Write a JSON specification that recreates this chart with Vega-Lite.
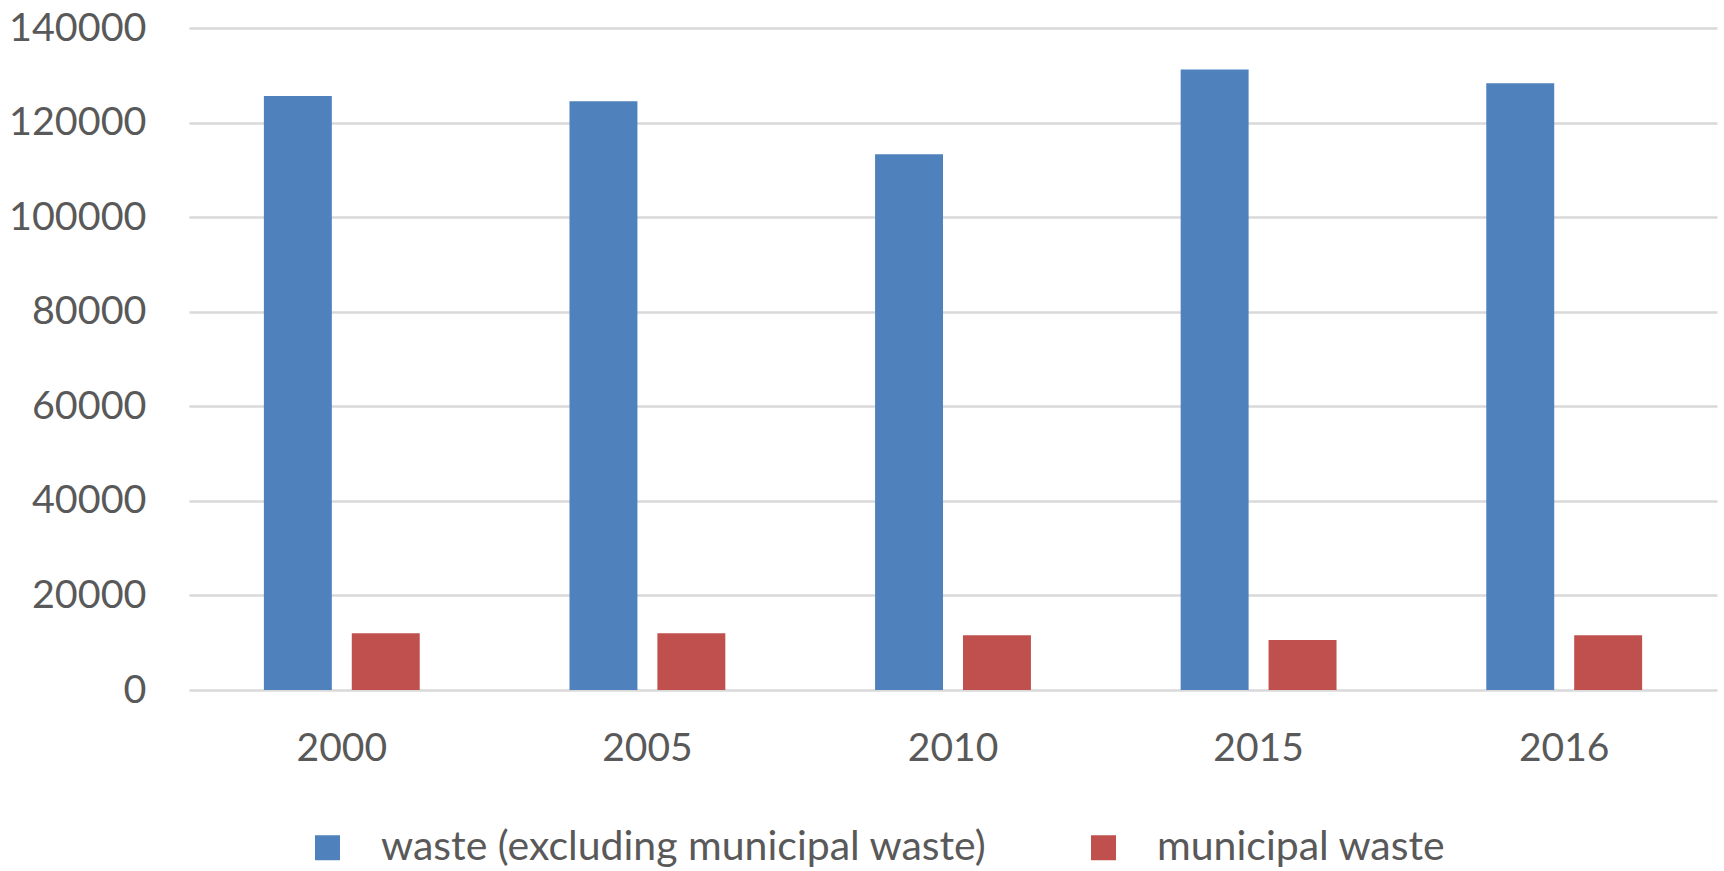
{
  "$schema": "https://vega.github.io/schema/vega-lite/v6.json",
  "autosize": {"type": "none"},
  "width": 1528,
  "height": 662,
  "padding": {"left": 189, "top": 28, "right": 7, "bottom": 181},
  "background": "white",
  "data": {
    "values": [
      {"year": "2000", "series": "waste (excluding municipal waste)", "value": 125600},
      {"year": "2000", "series": "municipal waste", "value": 12000},
      {"year": "2005", "series": "waste (excluding municipal waste)", "value": 124500},
      {"year": "2005", "series": "municipal waste", "value": 12000},
      {"year": "2010", "series": "waste (excluding municipal waste)", "value": 113300},
      {"year": "2010", "series": "municipal waste", "value": 11600},
      {"year": "2015", "series": "waste (excluding municipal waste)", "value": 131200},
      {"year": "2015", "series": "municipal waste", "value": 10600},
      {"year": "2016", "series": "waste (excluding municipal waste)", "value": 128300},
      {"year": "2016", "series": "municipal waste", "value": 11600}
    ]
  },
  "mark": {"type": "bar"},
  "encoding": {
    "x": {
      "field": "year",
      "type": "nominal",
      "scale": {"paddingInner": 0.49, "paddingOuter": 0.245},
      "axis": {
        "title": null,
        "labelAngle": 0,
        "domain": false,
        "ticks": false,
        "labelFont": "Lato",
        "labelFontSize": 39,
        "labelColor": "#595959",
        "labelPadding": 39
      }
    },
    "xOffset": {
      "field": "series",
      "type": "nominal",
      "sort": ["waste (excluding municipal waste)", "municipal waste"],
      "scale": {"paddingInner": 0.227, "paddingOuter": 0}
    },
    "y": {
      "field": "value",
      "type": "quantitative",
      "scale": {"domain": [0, 140000], "nice": false},
      "axis": {
        "title": null,
        "values": [0, 20000, 40000, 60000, 80000, 100000, 120000, 140000],
        "domain": false,
        "ticks": false,
        "grid": true,
        "gridColor": "#D9D9D9",
        "gridWidth": 2.5,
        "labelFont": "Lato",
        "labelFontSize": 39.5,
        "labelColor": "#595959",
        "labelPadding": 43,
        "format": "d"
      }
    },
    "color": {
      "field": "series",
      "type": "nominal",
      "sort": ["waste (excluding municipal waste)", "municipal waste"],
      "scale": {
        "domain": ["waste (excluding municipal waste)", "municipal waste"],
        "range": ["#4F81BD", "#C0504D"]
      },
      "legend": {
        "title": null,
        "orient": "none",
        "direction": "horizontal",
        "legendX": 118,
        "legendY": 799,
        "symbolType": "square",
        "symbolSize": 625,
        "symbolStrokeWidth": 0,
        "labelFont": "Lato",
        "labelFontSize": 41,
        "labelColor": "#595959",
        "labelOffset": 33,
        "columnPadding": 96,
        "padding": 0,
        "labelLimit": 1000
      }
    }
  },
  "config": {"view": {"stroke": null}}
}
